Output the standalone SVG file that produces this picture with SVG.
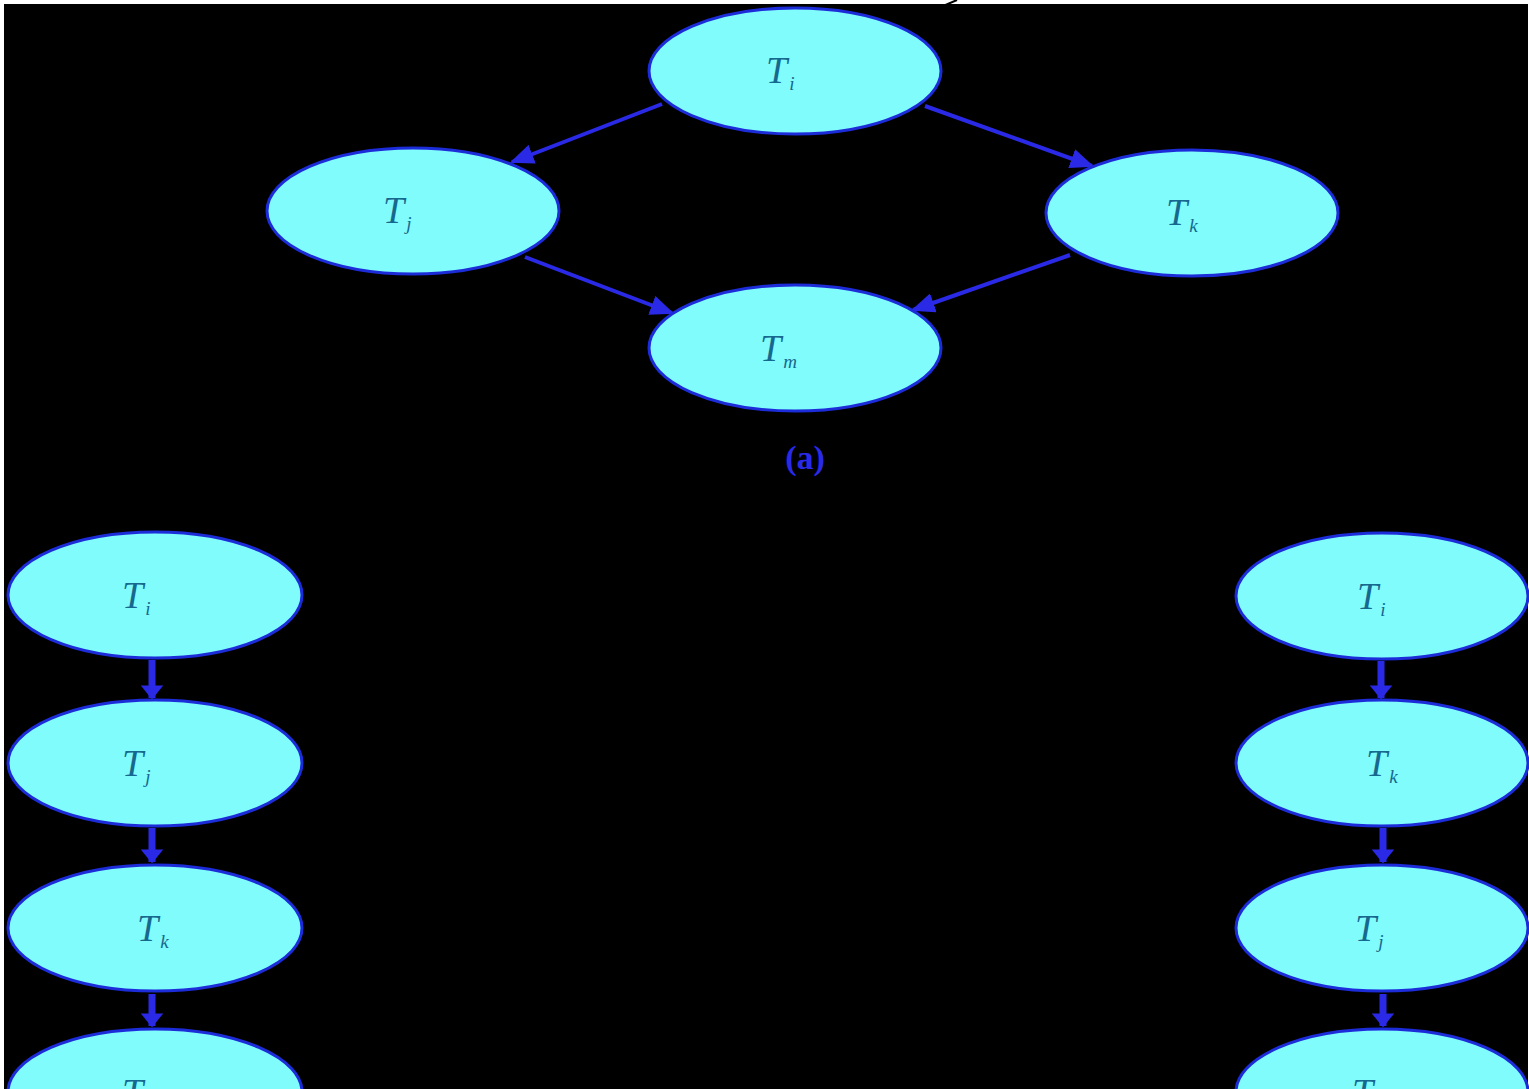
<svg xmlns="http://www.w3.org/2000/svg" width="1529" height="1089" viewBox="0 0 1529 1089">
  <defs>
    <style>
      .node ellipse { fill: #80fcfc; stroke: #1c2cd8; stroke-width: 3; }
      .lbl { font-family: "Liberation Serif", "DejaVu Serif", serif; font-style: italic; fill: #16688e; font-size: 38px; }
      .sub { font-size: 19px; }
      .edge { stroke: #2a2ae6; stroke-width: 4; fill: none; }
      .vedge { stroke: #2a2ae6; stroke-width: 7; fill: none; }
      .cap { font-family: "Liberation Serif", "DejaVu Serif", serif; font-weight: bold; font-size: 34px; fill: #2a2ae6; }
    </style>
    <marker id="ah" viewBox="0 0 10 10" refX="9" refY="5" markerWidth="6" markerHeight="5" orient="auto" markerUnits="strokeWidth" preserveAspectRatio="none">
      <path d="M0,0 L10,5 L0,10 z" fill="#2a2ae6"/>
    </marker>
    <marker id="vh" viewBox="0 0 10 10" refX="9" refY="5" markerWidth="2" markerHeight="3.2" orient="auto" markerUnits="strokeWidth" preserveAspectRatio="none">
      <path d="M0,0 L10,5 L0,10 z" fill="#2a2ae6"/>
    </marker>
  </defs>

  <!-- page background with black panel -->
  <rect x="0" y="0" width="1529" height="1089" fill="#ffffff"/>
  <rect x="4" y="4" width="1524" height="1085" fill="#000000"/>

  <!-- connectors -->
  <g id="connectors">
    <line class="edge" x1="662" y1="104" x2="512" y2="162" marker-end="url(#ah)"/>
    <line class="edge" x1="925" y1="106" x2="1092" y2="166" marker-end="url(#ah)"/>
    <line class="edge" x1="525" y1="257" x2="672" y2="313" marker-end="url(#ah)"/>
    <line class="edge" x1="1070" y1="255" x2="913" y2="310" marker-end="url(#ah)"/>

    <line class="vedge" x1="152" y1="660" x2="152" y2="698" marker-end="url(#vh)"/>
    <line class="vedge" x1="152" y1="828" x2="152" y2="862" marker-end="url(#vh)"/>
    <line class="vedge" x1="152" y1="994" x2="152" y2="1026" marker-end="url(#vh)"/>

    <line class="vedge" x1="1381" y1="661" x2="1381" y2="698" marker-end="url(#vh)"/>
    <line class="vedge" x1="1383" y1="828" x2="1383" y2="862" marker-end="url(#vh)"/>
    <line class="vedge" x1="1383" y1="994" x2="1383" y2="1026" marker-end="url(#vh)"/>

    <!-- thin pointer into the top node -->
    <g stroke="#000000" stroke-width="2" fill="none">
      <line x1="957" y1="0" x2="868" y2="38"/>
      <polyline points="882,21 868,38 889,40"/>
    </g>
  </g>

  <!-- graph (a) -->
  <g id="a-Ti" class="node">
    <ellipse cx="795" cy="71" rx="146" ry="63"/>
    <text class="lbl" x="766" y="83">T<tspan class="sub" dx="2" dy="7">i</tspan></text>
  </g>
  <g id="a-Tj" class="node">
    <ellipse cx="413" cy="211" rx="146" ry="63"/>
    <text class="lbl" x="383" y="223">T<tspan class="sub" dx="2" dy="7">j</tspan></text>
  </g>
  <g id="a-Tk" class="node">
    <ellipse cx="1192" cy="213" rx="146" ry="63"/>
    <text class="lbl" x="1166" y="225">T<tspan class="sub" dx="2" dy="7">k</tspan></text>
  </g>
  <g id="a-Tm" class="node">
    <ellipse cx="795" cy="348" rx="146" ry="63"/>
    <text class="lbl" x="760" y="361">T<tspan class="sub" dx="2" dy="7">m</tspan></text>
  </g>
  <text id="cap-a" class="cap" x="805" y="469" text-anchor="middle">(a)</text>

  <!-- left chain -->
  <g id="l-Ti" class="node">
    <ellipse cx="155" cy="595" rx="147" ry="63"/>
    <text class="lbl" x="122" y="608">T<tspan class="sub" dx="2" dy="7">i</tspan></text>
  </g>
  <g id="l-Tj" class="node">
    <ellipse cx="155" cy="763" rx="147" ry="63"/>
    <text class="lbl" x="122" y="776">T<tspan class="sub" dx="2" dy="7">j</tspan></text>
  </g>
  <g id="l-Tk" class="node">
    <ellipse cx="155" cy="928" rx="147" ry="63"/>
    <text class="lbl" x="137" y="941">T<tspan class="sub" dx="2" dy="7">k</tspan></text>
  </g>
  <g id="l-Tm" class="node">
    <ellipse cx="155" cy="1092" rx="147" ry="63"/>
    <text class="lbl" x="122" y="1105">T<tspan class="sub" dx="2" dy="7">m</tspan></text>
  </g>

  <!-- right chain -->
  <g id="r-Ti" class="node">
    <ellipse cx="1382" cy="596" rx="146" ry="63"/>
    <text class="lbl" x="1357" y="609">T<tspan class="sub" dx="2" dy="7">i</tspan></text>
  </g>
  <g id="r-Tk" class="node">
    <ellipse cx="1382" cy="763" rx="146" ry="63"/>
    <text class="lbl" x="1366" y="776">T<tspan class="sub" dx="2" dy="7">k</tspan></text>
  </g>
  <g id="r-Tj" class="node">
    <ellipse cx="1382" cy="928" rx="146" ry="63"/>
    <text class="lbl" x="1355" y="941">T<tspan class="sub" dx="2" dy="7">j</tspan></text>
  </g>
  <g id="r-Tm" class="node">
    <ellipse cx="1382" cy="1092" rx="146" ry="63"/>
    <text class="lbl" x="1352" y="1105">T<tspan class="sub" dx="2" dy="7">m</tspan></text>
  </g>
</svg>
